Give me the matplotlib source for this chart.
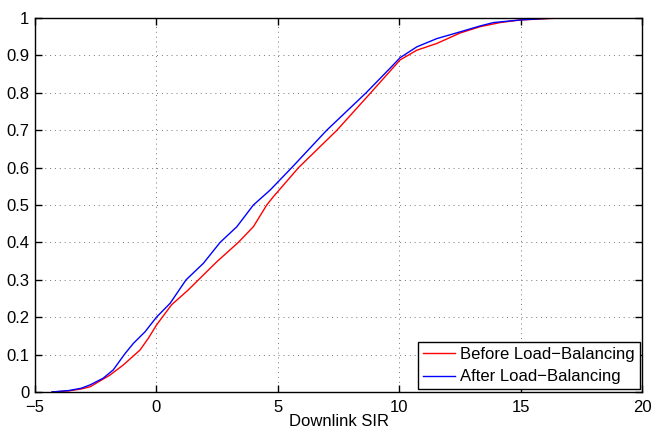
import numpy as np
import matplotlib
matplotlib.use("Agg")
import matplotlib.pyplot as plt

sir_before = [-4.3, -3.6, -3.1, -2.73, -1.92, -1.37, -0.68, -0.33, 0.0, 0.62,
              1.31, 1.73, 2.48, 3.37, 3.99, 4.54, 4.81, 5.85, 7.43, 8.82, 10.03,
              10.72, 11.54, 12.5, 13.33, 14.15, 15.0, 16.6]
cdf_before = [0.0, 0.003, 0.008, 0.014, 0.045, 0.072, 0.112, 0.144, 0.179, 0.233,
              0.273, 0.30, 0.348, 0.40, 0.442, 0.50, 0.522, 0.60, 0.70, 0.80, 0.888,
              0.914, 0.932, 0.960, 0.977, 0.988, 0.995, 1.0]

sir_after = [-4.3, -3.6, -3.1, -2.73, -2.19, -1.78, -1.29, -0.95, -0.47, 0.0, 0.56,
             1.22, 1.93, 2.62, 3.31, 3.99, 4.68, 5.57, 7.01, 8.63, 9.62,
             10.03, 10.72, 11.54, 12.5, 13.33, 13.88, 14.98, 16.3]
cdf_after = [0.0, 0.004, 0.01, 0.019, 0.037, 0.059, 0.103, 0.130, 0.161, 0.20, 0.237,
             0.30, 0.344, 0.40, 0.442, 0.50, 0.54, 0.60, 0.70, 0.80, 0.866,
             0.894, 0.923, 0.945, 0.963, 0.979, 0.988, 0.995, 1.0]

plt.rcParams['font.family'] = ['Liberation Sans', 'DejaVu Sans']
plt.rcParams['font.size'] = 12

fig = plt.figure(figsize=(6.52, 4.30), dpi=100)
ax = fig.add_axes([0.0537, 0.0884, 0.9313, 0.8696])

ax.plot(sir_before, cdf_before, color='red', lw=1.0, label='Before Load\u2212Balancing')
ax.plot(sir_after, cdf_after, color='blue', lw=1.0, label='After Load\u2212Balancing')

ax.set_xlim(-5, 20)
ax.set_ylim(0, 1)
ax.set_xticks(np.arange(-5, 21, 5))
ax.set_yticks(np.arange(0, 1.01, 0.1))
ax.set_xticklabels(['\u22125', '0', '5', '10', '15', '20'])
ax.set_yticklabels(['0'] + ['%.1f' % v for v in np.arange(0.1, 0.95, 0.1)] + ['1'])
ax.set_xlabel('Downlink SIR', labelpad=-1)

ax.grid(True, linestyle=(0, (1, 4)), color='#777777', lw=0.7)
ax.tick_params(direction='in', top=True, right=True, length=5, width=1)
ax.tick_params(axis='x', pad=6)
ax.tick_params(axis='y', pad=4)
for sp in ax.spines.values():
    sp.set_linewidth(1.0)

leg = ax.legend(loc='lower right', fancybox=False, edgecolor='black',
                framealpha=1, borderaxespad=0.15, handlelength=1.9,
                borderpad=0.3, labelspacing=0.45, handletextpad=0.3)
leg.get_frame().set_linewidth(1.0)

fig.savefig('out.png', dpi=100)
